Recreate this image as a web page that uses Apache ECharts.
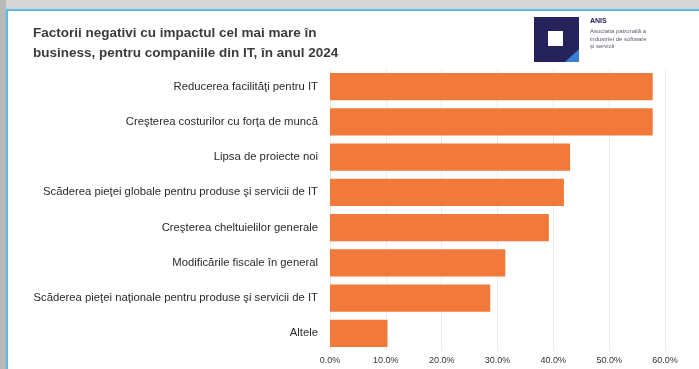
<!DOCTYPE html>
<html><head><meta charset="utf-8">
<script src="https://cdn.jsdelivr.net/npm/echarts@6/dist/echarts.min.js"></script>
<style>html,body{margin:0;padding:0;background:#fff;}#c{width:699px;height:369px;}</style>
</head><body><div id="c"></div>
<script>
const categories = [
  "Reducerea facilităţi pentru IT",
  "Creşterea costurilor cu forţa de muncă",
  "Lipsa de proiecte noi",
  "Scăderea pieţei globale pentru produse şi servicii de IT",
  "Creşterea cheltuielilor generale",
  "Modificările fiscale în general",
  "Scăderea pieţei naţionale pentru produse şi servicii de IT",
  "Altele"
];
const values = [57.8, 57.8, 43.0, 41.9, 39.2, 31.4, 28.7, 10.3];
const titleText = "Factorii negativi cu impactul cel mai mare în\nbusiness, pentru companiile din IT, în anul 2024";

const chart = echarts.init(document.getElementById('c'), null, {renderer: 'canvas'});
chart.setOption({
  animation: false,
  backgroundColor: '#ffffff',
  title: {
    text: titleText, left: 28, top: 18, padding: 5,
    textStyle: {fontFamily: 'Liberation Sans, Arial, sans-serif', fontWeight: 'bold', fontSize: 13.5, lineHeight: 20, color: '#3b3b3b'}
  },
  grid: {left: 330, right: 34, top: 69, bottom: 18, containLabel: false},
  xAxis: {
    type: 'value', min: 0, max: 60, interval: 10,
    axisLine: {show: false}, axisTick: {show: false},
    splitLine: {show: true, lineStyle: {color: '#ececec', width: 1}},
    axisLabel: {formatter: v => v.toFixed(1) + '%', fontSize: 9, color: '#333', margin: 5,
      fontFamily: 'Liberation Sans, Arial, sans-serif'}
  },
  yAxis: {
    type: 'category', data: categories, inverse: true,
    axisLine: {show: false}, axisTick: {show: false},
    axisLabel: {fontSize: 11.3, color: '#2a2a2a', margin: 12, fontFamily: 'Liberation Sans, Arial, sans-serif'}
  },
  series: [{
    type: 'bar', data: values, barWidth: '78%',
    itemStyle: {color: '#f17a3a'}
  }],
  graphic: [
    {type: 'rect', shape: {x: 0, y: 0, width: 699, height: 9}, style: {fill: '#d6d6d6'}, z: 100},
    {type: 'rect', shape: {x: 0, y: 0, width: 6, height: 369}, style: {fill: '#b9b9b9'}, z: 100},
    {type: 'rect', shape: {x: 6, y: 9, width: 693, height: 2}, style: {fill: '#55bde9'}, z: 101},
    {type: 'rect', shape: {x: 6, y: 9, width: 2, height: 360}, style: {fill: '#55bde9'}, z: 101},
    {type: 'rect', shape: {x: 534, y: 17, width: 45, height: 45}, style: {fill: '#26225c'}, z: 100},
    {type: 'rect', shape: {x: 548, y: 31, width: 15, height: 15}, style: {fill: '#ffffff'}, z: 101},
    {type: 'polygon', shape: {points: [[579, 49], [579, 62], [565, 62]]}, style: {fill: '#3a7fd0'}, z: 101},
    {type: 'text', left: 590, top: 18, style: {text: 'ANIS', font: 'bold 7px Liberation Sans, Arial, sans-serif', fill: '#26225c'}, z: 101},
    {type: 'text', left: 590, top: 28, style: {text: 'Asociatia patronală a\nindustriei de software\nși servicii', font: '6px Liberation Sans, Arial, sans-serif', lineHeight: 7.5, fill: '#5a5a6a'}, z: 101}
  ]
});
</script></body></html>
